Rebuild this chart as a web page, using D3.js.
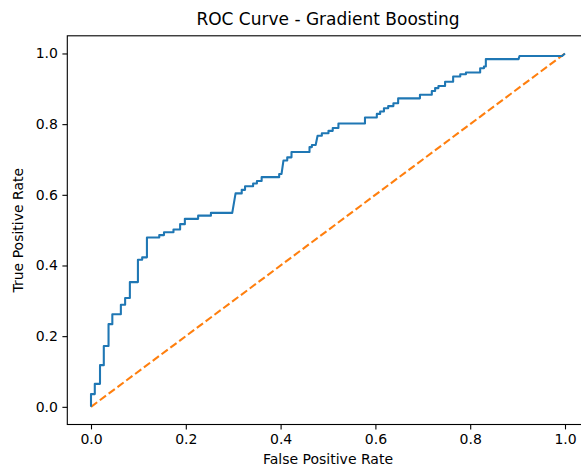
<!DOCTYPE html>
<html>
<head>
<meta charset="utf-8">
<script src="https://cdn.jsdelivr.net/npm/d3@7"></script>
<style>
  body { margin: 0; background: #fff; }
  text { font-family: "DejaVu Sans", sans-serif; fill: #000; }
</style>
</head>
<body>
<div id="chart-container"></div>
<script>
// ROC points (corners of the step curve)
const fpr = [0, 0, 0.008, 0.008, 0.019, 0.019, 0.027, 0.027, 0.037, 0.037, 0.045, 0.045,
  0.063, 0.063, 0.072, 0.072, 0.082, 0.082, 0.099, 0.099, 0.108, 0.108, 0.118, 0.118,
  0.144, 0.144, 0.154, 0.154, 0.174, 0.174, 0.188, 0.188, 0.198, 0.198, 0.226, 0.226,
  0.253, 0.253, 0.298, 0.305, 0.318, 0.318, 0.325, 0.325, 0.342, 0.342, 0.350, 0.350,
  0.360, 0.360, 0.397, 0.397, 0.402, 0.406, 0.414, 0.414, 0.423, 0.423, 0.461, 0.461,
  0.466, 0.466, 0.474, 0.478, 0.487, 0.487, 0.501, 0.501, 0.510, 0.510, 0.522, 0.522,
  0.578, 0.578, 0.603, 0.603, 0.610, 0.610, 0.618, 0.618, 0.627, 0.627, 0.638, 0.638,
  0.648, 0.648, 0.694, 0.694, 0.719, 0.719, 0.726, 0.726, 0.733, 0.733, 0.747, 0.747,
  0.764, 0.764, 0.779, 0.779, 0.791, 0.791, 0.821, 0.821, 0.829, 0.829, 0.833, 0.833,
  0.902, 0.904, 0.994, 1.0];
const tpr = [0, 0.036, 0.036, 0.065, 0.065, 0.118, 0.118, 0.172, 0.172, 0.234, 0.234, 0.262,
  0.262, 0.289, 0.289, 0.308, 0.308, 0.353, 0.353, 0.416, 0.416, 0.423, 0.423, 0.479,
  0.479, 0.486, 0.486, 0.494, 0.494, 0.502, 0.502, 0.517, 0.517, 0.532, 0.532, 0.541,
  0.541, 0.549, 0.549, 0.604, 0.604, 0.614, 0.614, 0.624, 0.624, 0.632, 0.632, 0.639,
  0.639, 0.650, 0.650, 0.659, 0.659, 0.697, 0.697, 0.706, 0.706, 0.721, 0.721, 0.735,
  0.735, 0.741, 0.741, 0.767, 0.767, 0.774, 0.774, 0.781, 0.781, 0.789, 0.789, 0.802,
  0.802, 0.819, 0.819, 0.829, 0.829, 0.836, 0.836, 0.845, 0.845, 0.851, 0.851, 0.859,
  0.859, 0.873, 0.873, 0.883, 0.883, 0.894, 0.894, 0.902, 0.902, 0.908, 0.908, 0.920,
  0.920, 0.935, 0.935, 0.941, 0.941, 0.946, 0.946, 0.958, 0.958, 0.963, 0.963, 0.984,
  0.984, 0.993, 0.993, 1.0];

// chance line
const chanceX = [0, 1];
const chanceY = [0, 1];

const ticks = [0, 0.2, 0.4, 0.6, 0.8, 1.0];

const W = 581, H = 468;
// axes box (right edge runs past the picture, like the original crop)
const box = { left: 67.3, right: 588.7, top: 35.8, bottom: 424.5 };

const svg = d3.select("#chart-container")
  .append("svg")
    .attr("width", W)
    .attr("height", H);

const x = d3.scaleLinear().domain([-0.05, 1.05]).range([box.left, box.right]);
const y = d3.scaleLinear().domain([-0.05, 1.05]).range([box.bottom, box.top]);

const fmt = d3.format(".1f");

// x axis
svg.append("g")
  .attr("transform", `translate(0, ${box.bottom})`)
  .call(d3.axisBottom(x).tickValues(ticks).tickFormat(fmt).tickSize(4.9).tickPadding(4.5))
  .call(g => g.select(".domain").remove())
  .call(g => g.selectAll("line").attr("stroke", "#000").attr("stroke-width", 1.1))
  .call(g => g.selectAll("text").style("font-size", "14px").style("font-family", "DejaVu Sans"));

// y axis
svg.append("g")
  .attr("transform", `translate(${box.left}, 0)`)
  .call(d3.axisLeft(y).tickValues(ticks).tickFormat(fmt).tickSize(4.9).tickPadding(4.5))
  .call(g => g.select(".domain").remove())
  .call(g => g.selectAll("line").attr("stroke", "#000").attr("stroke-width", 1.1))
  .call(g => g.selectAll("text").style("font-size", "14px").style("font-family", "DejaVu Sans"));

// chance diagonal
const line = d3.line()
  .x(d => x(d[0]))
  .y(d => y(d[1]));

svg.append("path")
  .datum(d3.zip(chanceX, chanceY))
  .attr("fill", "none")
  .attr("stroke", "#ff7f0e")
  .attr("stroke-width", 2.08)
  .attr("stroke-dasharray", "7.7,3.3")
  .attr("d", line);

// ROC curve
svg.append("path")
  .datum(d3.zip(fpr, tpr))
  .attr("fill", "none")
  .attr("stroke", "#1f77b4")
  .attr("stroke-width", 2.08)
  .attr("stroke-linejoin", "round")
  .attr("d", line);

// frame
svg.append("rect")
  .attr("x", box.left)
  .attr("y", box.top)
  .attr("width", box.right - box.left)
  .attr("height", box.bottom - box.top)
  .attr("fill", "none")
  .attr("stroke", "#000")
  .attr("stroke-width", 1.1);

// title and labels
svg.append("text")
  .attr("x", (box.left + box.right) / 2)
  .attr("y", 25)
  .attr("text-anchor", "middle")
  .style("font-size", "17px")
  .text("ROC Curve - Gradient Boosting");

svg.append("text")
  .attr("x", (box.left + box.right) / 2)
  .attr("y", 464)
  .attr("text-anchor", "middle")
  .style("font-size", "14px")
  .text("False Positive Rate");

svg.append("text")
  .attr("transform", `translate(23, ${(box.top + box.bottom) / 2}) rotate(-90)`)
  .attr("text-anchor", "middle")
  .style("font-size", "14px")
  .text("True Positive Rate");
</script>
</body>
</html>
